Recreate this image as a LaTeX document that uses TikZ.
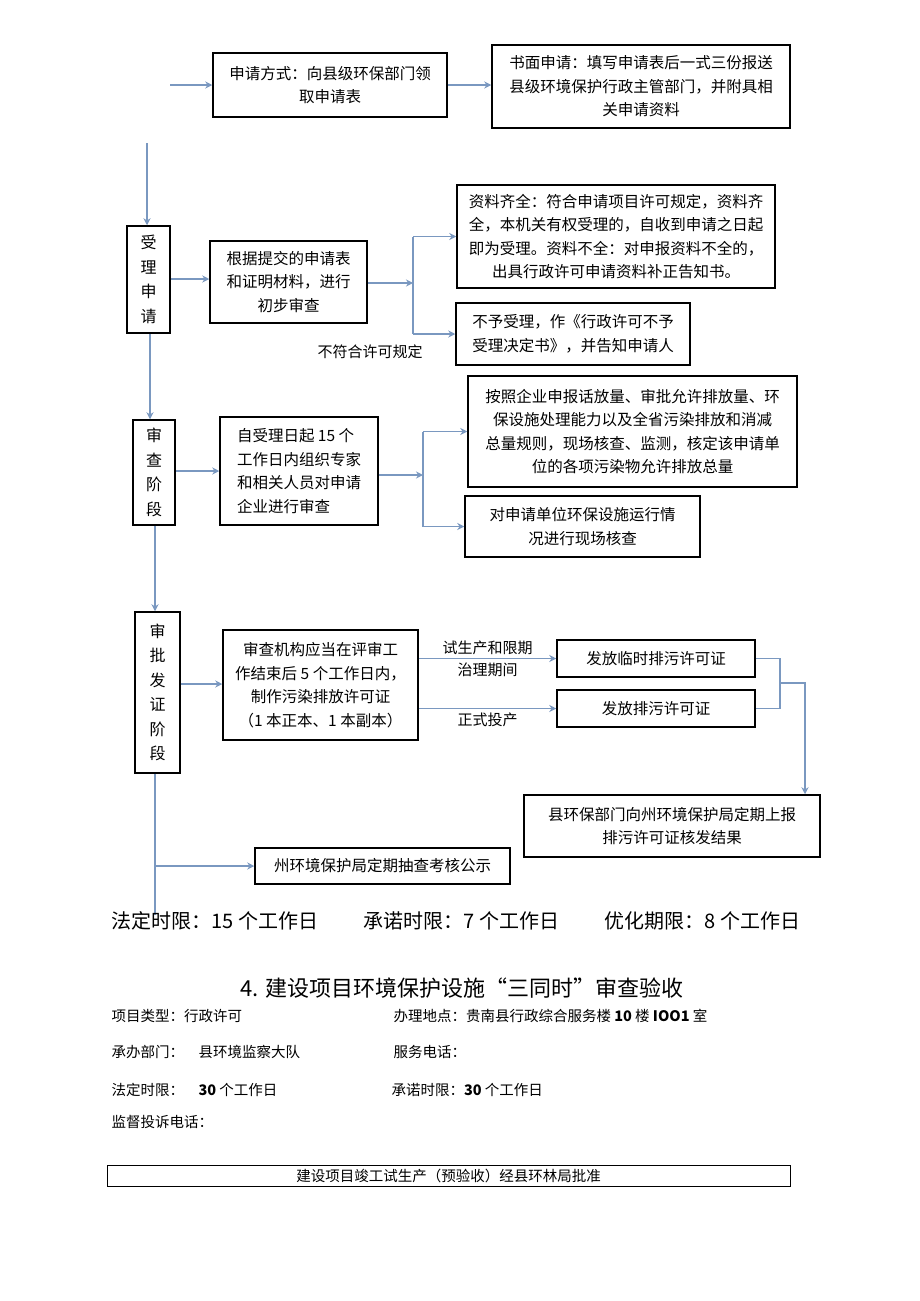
\documentclass[tikz,border=0pt]{standalone}
\usepackage{fontspec}
\setmainfont{Noto Sans CJK SC}
\usetikzlibrary{arrows.meta}
\definecolor{linkblue}{RGB}{122,152,192}
\begin{document}
\begin{tikzpicture}[x=1pt,y=-1pt,
    box/.style={draw,line width=1.5pt,align=center,inner sep=2pt,font=\fontsize{15.5}{23.5}\selectfont},
    stage/.style={box,font=\fontsize{16}{24.5}\selectfont},
    link/.style={draw=linkblue,line width=1.4pt,-{Stealth[length=7pt,width=7pt]}},
    line/.style={draw=linkblue,line width=1.4pt},
    note/.style={font=\fontsize{15}{18}\selectfont},
    limit/.style={font=\fontsize{20}{24}\selectfont,anchor=base west},
    info/.style={font=\fontsize{14.5}{18}\selectfont,anchor=base west}]
  \fill[white] (0,0) rectangle (920,1301);
  \useasboundingbox (0,0) rectangle (920,1301);
  % application
  \node[box,minimum width=234pt,minimum height=64pt] (apply) at (330,85) {申请方式：向县级环保部门领\\取申请表};
  \node[box,minimum width=298pt,minimum height=83pt] (written) at (641,86.5) {书面申请：填写申请表后一式三份报送\\县级环境保护行政主管部门，并附具相\\关申请资料};
  \coordinate (in) at (170,85);
  \draw[link] (in) -- (apply.west);
  \draw[link] (apply.east) -- (apply.east -| written.west);
  % acceptance
  \node[stage,minimum width=43pt,minimum height=107pt] (accept) at (148.5,279.5) {受\\理\\申\\请};
  \node[box,minimum width=157pt,minimum height=82pt] (check) at (288.5,282) {根据提交的申请表\\和证明材料，进行\\初步审查};
  \node[box,minimum width=318pt,minimum height=103pt] (complete) at (616,236.5) {资料齐全：符合申请项目许可规定，资料齐\\全，本机关有权受理的，自收到申请之日起\\即为受理。资料不全：对申报资料不全的，\\出具行政许可申请资料补正告知书。};
  \node[box,minimum width=234pt,minimum height=62pt] (reject) at (573,334) {不予受理，作《行政许可不予\\受理决定书》，并告知申请人};
  \node[note] (nofit) at (370,352) {不符合许可规定};
  \coordinate (top) at (147,143);
  \coordinate (fork1) at (413,283);
  \draw[link] (top) -- (top |- accept.north);
  \draw[link] (accept.east |- 0,279) -- (check.west |- 0,279);
  \draw[link] (check.east |- fork1) -- (fork1);
  \draw[line] (fork1 |- complete.west) -- (fork1 |- reject.west);
  \draw[link] (fork1 |- complete.west) -- (complete.west);
  \draw[link] (fork1 |- reject.west) -- (reject.west);
  % review
  \node[stage,minimum width=42pt,minimum height=105pt] (review) at (154,472.5) {审\\查\\阶\\段};
  \node[box,minimum width=158pt,minimum height=108pt,align=left] (expert) at (299,471) {自受理日起 15 个\\工作日内组织专家\\和相关人员对申请\\企业进行审查};
  \node[box,minimum width=329pt,minimum height=111pt] (quota) at (632.5,431.5) {按照企业申报话放量、审批允许排放量、环\\保设施处理能力以及全省污染排放和消减\\总量规则，现场核查、监测，核定该申请单\\位的各项污染物允许排放总量};
  \node[box,minimum width=235pt,minimum height=61pt] (site) at (582.5,526.5) {对申请单位环保设施运行情\\况进行现场核查};
  \coordinate (fork2) at (423,475);
  \coordinate (mid1) at (150,0);
  \draw[link] (mid1 |- accept.south) -- (mid1 |- review.north);
  \draw[link] (review.east |- expert.west) -- (expert.west);
  \draw[link] (expert.east |- fork2) -- (fork2);
  \draw[line] (fork2 |- quota.west) -- (fork2 |- site.west);
  \draw[link] (fork2 |- quota.west) -- (quota.west);
  \draw[link] (fork2 |- site.west) -- (site.west);
  % approval
  \node[stage,minimum width=45pt,minimum height=161pt] (issue) at (157.5,692.5) {审\\批\\发\\证\\阶\\段};
  \node[box,minimum width=195pt,minimum height=110pt] (agency) at (320.5,685) {审查机构应当在评审工\\作结束后 5 个工作日内，\\制作污染排放许可证\\（1 本正本、1 本副本）};
  \node[box,minimum width=198pt,minimum height=37pt] (temp) at (656,658.5) {发放临时排污许可证};
  \node[box,minimum width=198pt,minimum height=37pt] (formal) at (656,708.5) {发放排污许可证};
  \node[box,minimum width=296pt,minimum height=62pt] (report) at (672,826) {县环保部门向州环境保护局定期上报\\排污许可证核发结果};
  \node[box,minimum width=255pt,minimum height=36pt] (audit) at (382.5,866) {州环境保护局定期抽查考核公示};
  \coordinate (merge) at (780,683);
  \coordinate (drop) at (805,683);
  \coordinate (tail) at (155,915);
  \draw[link] (tail |- review.south) -- (tail |- issue.north);
  \draw[link] (issue.east |- 0,684) -- (agency.west |- 0,684);
  \draw[link] (agency.east |- temp.west) -- node[note,above] {试生产和限期} node[note,below] {治理期间} (temp.west);
  \draw[link] (agency.east |- formal.west) -- node[note,below] {正式投产} (formal.west);
  \draw[line] (temp.east) -| (merge) |- (formal.east);
  \draw[link] (merge) -- (drop) -- (drop |- report.north);
  \draw[line] (tail |- issue.south) -- (tail);
  \draw[link] (tail |- audit.west) -- (audit.west);
  % time limits
  \node[limit] (legal) at (108,928) {法定时限：15 个工作日};
  \node[limit] (promise) at (360,928) {承诺时限：7 个工作日};
  \node[limit] (optimal) at (601,928) {优化期限：8 个工作日};
  % section 4
  \node[font=\fontsize{22}{26}\selectfont,anchor=base] (title) at (462,996) {4. 建设项目环境保护设施“三同时”审查验收};
  \node[info] (type) at (108,1021) {项目类型：行政许可};
  \node[info] (place) at (390,1021) {办理地点：贵南县行政综合服务楼 \textbf{10} 楼 \textbf{IOO1} 室};
  \node[info] (dept) at (108,1057) {承办部门：\quad 县环境监察大队};
  \node[info] (phone) at (390,1057) {服务电话：};
  \node[info] (legal2) at (108,1095) {法定时限：\quad \textbf{30} 个工作日};
  \node[info] (promise2) at (388,1095) {承诺时限：\textbf{30} 个工作日};
  \node[info] (complain) at (108,1127) {监督投诉电话：};
  \node[draw,line width=0.6pt,minimum width=683pt,minimum height=21pt,inner sep=1pt,font=\fontsize{14.5}{18}\selectfont] (approve) at (448.5,1175.5) {建设项目竣工试生产（预验收）经县环林局批准};
\end{tikzpicture}
\end{document}
